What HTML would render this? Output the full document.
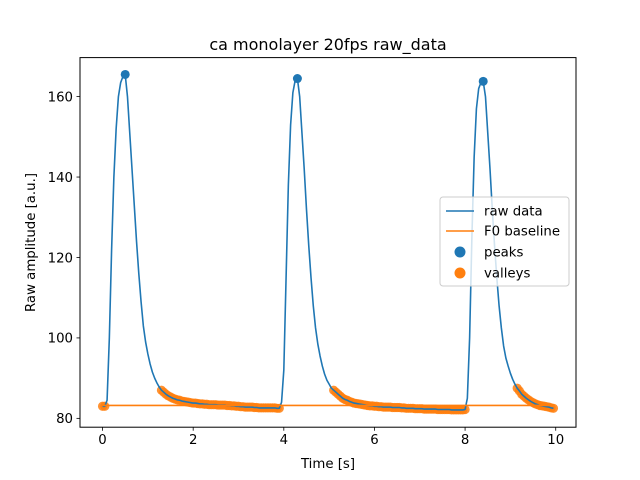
<!DOCTYPE html>
<html><head><meta charset="utf-8"><style>
html,body{margin:0;padding:0;background:#fff}
svg{display:block;font-family:"DejaVu Sans","Liberation Sans",sans-serif}
</style></head><body>
<svg id="chart" width="640" height="480" viewBox="0 0 640 480" xmlns="http://www.w3.org/2000/svg">
<rect width="640" height="480" fill="#fff"/>
<text x="328" y="50" font-size="16" text-anchor="middle">ca monolayer 20fps raw_data</text>
<g id="valleysG"></g>
<g id="plot"></g>
<g id="xaxis"></g>
<g id="yaxis"></g>
<text x="328" y="468" font-size="13.3" text-anchor="middle">Time [s]</text>
<text transform="translate(35,242.5) rotate(-90)" font-size="13.3" text-anchor="middle">Raw amplitude [a.u.]</text>
<rect x="80" y="57.6" width="496" height="369.6" fill="none" stroke="#000" stroke-width="1"/>
<g>
<rect x="440" y="197" width="129" height="89" rx="3" fill="#fff" fill-opacity="0.8" stroke="#ccc"/>
<g><line x1="446" y1="211" x2="474" y2="211" stroke="#1f77b4" stroke-width="1.5"/><text x="484" y="215.5" font-size="13.3">raw data</text></g>
<g><line x1="446" y1="231" x2="474" y2="231" stroke="#ff7f0e" stroke-width="1.5"/><text x="484" y="235.5" font-size="13.3">F0 baseline</text></g>
<g><circle cx="460" cy="252" r="5.5" fill="#1f77b4"/><text x="484" y="256.5" font-size="13.3">peaks</text></g>
<g><circle cx="460" cy="273" r="5.5" fill="#ff7f0e"/><text x="484" y="277.5" font-size="13.3">valleys</text></g>
</g>
</svg>
<script>
const xTicks=[0,2,4,6,8,10];
const yTicks=[80,100,120,140,160];
const frameInterval=0.05;
const valleySegmentStarts=[0,1.3,5.1,9.15];
const valley0Values=[83,83];
const valley1Values=[87,86.5,86,85.6,85.3,85,84.8,84.6,84.5,84.3,84.2,84.1,84,83.9,83.8,83.8,83.7,83.6,83.6,83.5,83.5,83.4,83.4,83.4,83.4,83.3,83.3,83.3,83.3,83.2,83.2,83.1,83.1,83,83,82.9,82.9,82.8,82.8,82.8,82.8,82.7,82.7,82.6,82.6,82.6,82.6,82.6,82.6,82.6,82.6,82.5,82.5];
const valley2Values=[87,86.5,86,85.5,85,84.7,84.5,84.2,84,83.8,83.7,83.6,83.5,83.4,83.3,83.2,83.1,83.1,83,83,82.9,82.9,82.8,82.8,82.8,82.8,82.7,82.7,82.7,82.7,82.6,82.6,82.5,82.5,82.5,82.5,82.4,82.4,82.4,82.4,82.3,82.3,82.3,82.3,82.3,82.3,82.2,82.2,82.2,82.2,82.2,82.2,82.1,82.1,82.1,82.1,82.1,82.1,82.2];
const valley3Values=[87.5,86.8,86,85.5,85,84.6,84.2,83.9,83.6,83.4,83.2,83.1,83,82.9,82.8,82.6,82.5];
const transientTimes=[0.1,0.15,0.2,0.25,0.3,0.35,0.4,0.45,0.5,0.55,0.6,0.65,0.7,0.75,0.8,0.85,0.9,0.95,1.0,1.05,1.1,1.15,1.2,1.25,
3.95,4.0,4.05,4.1,4.15,4.2,4.25,4.3,4.35,4.4,4.45,4.5,4.55,4.6,4.65,4.7,4.75,4.8,4.85,4.9,4.95,5.0,5.05,
8.05,8.1,8.15,8.2,8.25,8.3,8.35,8.4,8.45,8.5,8.55,8.6,8.65,8.7,8.75,8.8,8.85,8.9,8.95,9.0,9.05,9.1];
const transientValues=[84.5,100,122,140,152,160,163.5,165,165.5,160,151,142,133,124,116,109,103,99,96,93.5,91.5,90,88.8,87.8,
84,92,115,138,153,161,164,164.5,160,151,142,132,123,115,108,102.5,98.5,95.5,93,91,89.5,88.5,87.5,
85,100,125,145,157,162,163.5,163.8,160,151,142,132,123,115,108,102.5,98,95,93,91.2,89.7,88.5];
const peakTimes=[0.5,4.3,8.4];
const peakValues=[165.5,164.5,163.8];
const baselineValue=83.2;
const baselineRange=[0,9.95];

const NS="http://www.w3.org/2000/svg";
const L=80,R=576,T=57.6,B=427.2;
const xMin=-0.4975,xMax=10.4475,yMin=77.8,yMax=169.7;
const sx=v=>L+(v-xMin)/(xMax-xMin)*(R-L);
const sy=v=>B-(v-yMin)/(yMax-yMin)*(B-T);
function mk(tag,attrs,parent){const e=document.createElementNS(NS,tag);for(const k in attrs)e.setAttribute(k,attrs[k]);parent.appendChild(e);return e;}
const plot=document.getElementById('plot'),vg=document.getElementById('valleysG'),xa=document.getElementById('xaxis'),ya=document.getElementById('yaxis');
xTicks.forEach(t=>{const x=sx(t);
 const l=mk('line',{x1:x,x2:x,y1:B,y2:B+3.5,stroke:'#000','stroke-width':0.8},xa);
 
 
 const s=mk('text',{x:x,y:B+17,'font-size':13.3,'text-anchor':'middle'},xa);s.textContent=String(t);
 
 });
yTicks.forEach(t=>{const y=sy(t);
 const l=mk('line',{x1:L-3.5,x2:L,y1:y,y2:y,stroke:'#000','stroke-width':0.8},ya);
 
 
 const s=mk('text',{x:L-7,y:y+4.8,'font-size':13.3,'text-anchor':'end'},ya);s.textContent=String(t);
 
 });
const valleySegs=[valley0Values,valley1Values,valley2Values,valley3Values];
const valleys=[];
valleySegs.forEach((vals,s)=>vals.forEach((v,i)=>valleys.push([valleySegmentStarts[s]+i*frameInterval,v])));
const raw=valleys.concat(transientTimes.map((t,i)=>[t,transientValues[i]])).sort((a,b)=>a[0]-b[0]);
valleys.forEach(p=>{const c=mk('circle',{cx:sx(p[0]),cy:sy(p[1]),r:4.6,fill:'#ff7f0e','fill-opacity':0.85},vg);
 
 });
const line=mk('polyline',{points:raw.map(p=>sx(p[0])+','+sy(p[1])).join(' '),fill:'none',stroke:'#1f77b4','stroke-width':1.6,'stroke-linejoin':'round'},plot);


const bl=mk('line',{x1:sx(baselineRange[0]),x2:sx(baselineRange[1]),y1:sy(baselineValue),y2:sy(baselineValue),stroke:'#ff7f0e','stroke-width':1.6},plot);


peakTimes.forEach((t,i)=>{const c=mk('circle',{cx:sx(t),cy:sy(peakValues[i]),r:4.5,fill:'#1f77b4'},plot);
 
 });
</script>
</body></html>
